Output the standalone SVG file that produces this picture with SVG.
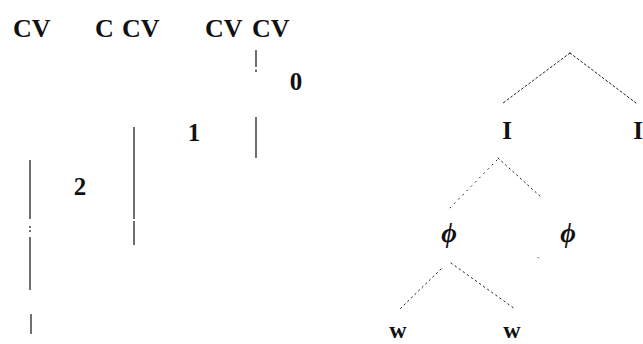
<svg xmlns="http://www.w3.org/2000/svg" width="643" height="344" viewBox="0 0 643 344">
  <style>
    .lbl { font-family: "Liberation Serif", "Times New Roman", serif; font-weight: bold; fill: #111; }
    .cv { font-size: 26px; }
    .num { font-size: 25px; text-anchor: middle; }
    .cat { font-size: 25px; text-anchor: middle; }
    .wd { font-size: 24px; text-anchor: middle; }
    .phi { font-size: 27px; font-style: italic; text-anchor: middle; }
    .bar { stroke: #222; stroke-width: 1.3; fill: none; }
    .dot { stroke: #222; stroke-width: 1; fill: none; stroke-linecap: round; }
    .d1 { stroke-dasharray: 2 2.5; }
    .d2 { stroke-dasharray: 1 5; }
    .d3 { stroke-dasharray: 1.5 3.5; }
  </style>
  <rect width="643" height="344" fill="#fff"/>

  <!-- CV strings -->
  <g id="cv1"><text class="lbl cv" x="13" y="37">CV</text></g>
  <g id="cv2"><text class="lbl cv" x="95" y="37">C <tspan x="122">CV</tspan></text></g>
  <g id="cv3"><text class="lbl cv" x="205" y="37">CV <tspan x="252">CV</tspan></text></g>

  <!-- level numbers -->
  <g id="n0"><text class="lbl num" x="296" y="90">0</text></g>
  <g id="n1"><text class="lbl num" x="194" y="141">1</text></g>
  <g id="n2"><text class="lbl num" x="80" y="195">2</text></g>

  <!-- prosodic tree -->
  <g id="I-left"><text class="lbl cat" x="507" y="139">I</text></g>
  <g id="I-right"><text class="lbl cat" x="638" y="139">I</text></g>
  <g id="phi-left"><text class="lbl phi" x="449" y="242">ϕ</text></g>
  <g id="phi-right"><text class="lbl phi" x="568" y="242">ϕ</text></g>
  <g id="w-left"><text class="lbl wd" x="398" y="338">w</text></g>
  <g id="w-right"><text class="lbl wd" x="512" y="338">w</text></g>

  <g id="connectors">
    <!-- vertical bars -->
    <line class="bar" x1="256" y1="50" x2="256" y2="67"/>
    <line class="bar" x1="256" y1="69.5" x2="256" y2="72"/>
    <line class="bar" x1="256" y1="117" x2="256" y2="158"/>
    <line class="bar" x1="134" y1="127" x2="134" y2="219"/>
    <line class="bar" x1="134" y1="221" x2="134" y2="245"/>
    <line class="bar" x1="30" y1="160" x2="30" y2="219"/>
    <line class="bar" x1="30" y1="226" x2="30" y2="228"/>
    <line class="bar" x1="30" y1="230" x2="30" y2="232"/>
    <line class="bar" x1="30" y1="237" x2="30" y2="290"/>
    <line class="bar" x1="31" y1="314" x2="31" y2="334"/>

    <!-- tree branches -->
    <line class="dot d1" x1="570" y1="53" x2="503" y2="103"/>
    <line class="dot d1" x1="570" y1="53" x2="636" y2="103"/>
    <line class="dot d2" x1="497" y1="160" x2="449" y2="209"/>
    <line class="dot d3" x1="498" y1="158" x2="541" y2="197"/>
    <line class="dot" x1="538" y1="257.5" x2="538.5" y2="258"/>
    <line class="dot d3" x1="441" y1="269" x2="400" y2="309"/>
    <line class="dot d3" x1="451" y1="263" x2="515" y2="309"/>
  </g>
</svg>
